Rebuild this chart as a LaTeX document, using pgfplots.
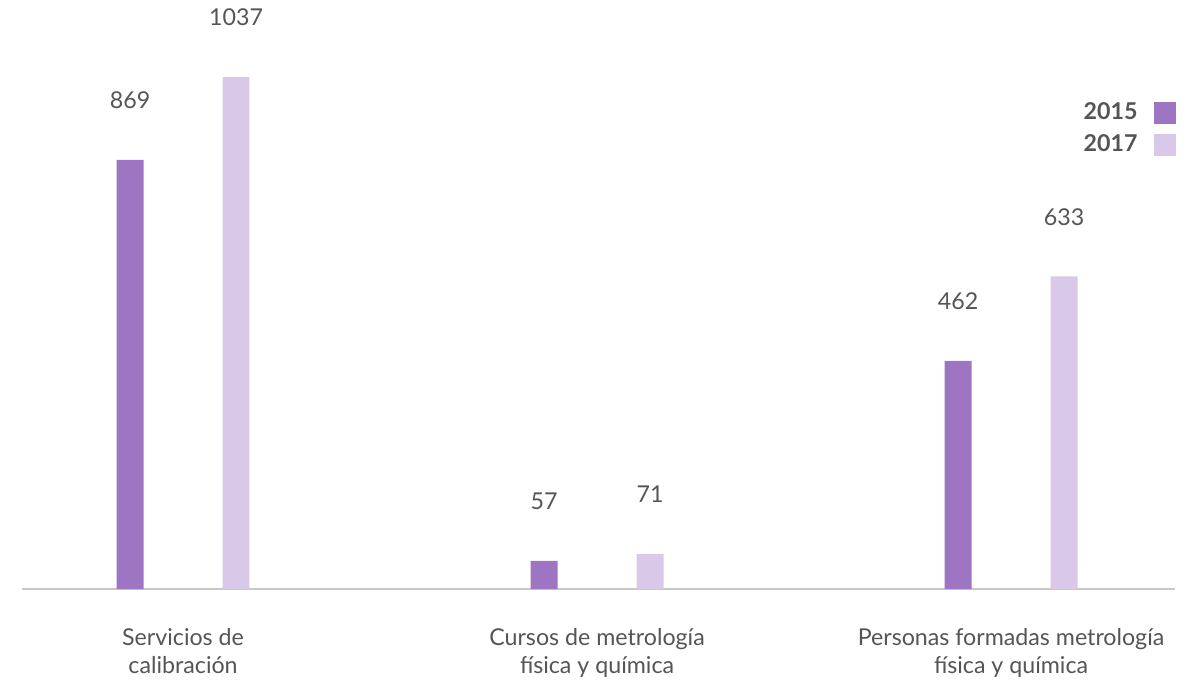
\documentclass[border=0pt]{standalone}
\usepackage{pgfplots}
\pgfplotsset{compat=1.18}
\usepackage{fontspec}
\setmainfont{Lato}
\definecolor{c2015}{HTML}{9E75C2}
\definecolor{c2017}{HTML}{D9C8E7}
\definecolor{txt}{HTML}{555555}
\definecolor{axl}{HTML}{C8C8C8}
\pgfplotstableread{
x v2015 v2017
0 869 1037
1 57 71
2 462 633
}\datatable
\begin{document}
\begin{tikzpicture}
\useasboundingbox (-11pt,-46pt) rectangle (585pt,294.5pt);
\begin{axis}[
  scale only axis,
  width=576.5pt, height=294.5pt,
  anchor=south west, at={(0,0)},
  xmin=-0.389, xmax=2.396,
  ymin=0, ymax=1193,
  axis y line=none,
  axis x line*=bottom,
  x axis line style={draw=axl, line width=1.2pt, -},
  xtick={0,1,2},
  xticklabels={{Servicios de\\calibración},{Cursos de metrología\\física y química},{Personas formadas metrología\\física y química}},
  xticklabel style={align=center, font=\fontsize{11.6}{14}\selectfont, text=txt, yshift=-16pt},
  major tick length=0pt,
  ybar, bar width=0.065,
  nodes near coords,
  /pgf/number format/assume math mode=true,
  /pgf/number format/1000 sep={},
  every node near coord/.append style={font=\fontsize{11.6}{13}\selectfont, text=txt, yshift=22pt},
  legend plot pos=right,
  legend cell align=right,
  legend style={draw=none, fill=none, at={(1.006,0.84)}, anchor=north east, font=\bfseries\fontsize{11.6}{13}\selectfont, text=txt, row sep=2pt},
  legend image code/.code={\path (0pt,0pt); \fill[#1] (6pt,-5.5pt) rectangle (17pt,5.5pt);},
]
\addplot[fill=c2015, draw=none, bar shift=-0.128] table[x=x, y=v2015]{\datatable};
\addplot[fill=c2017, draw=none, bar shift=0.128] table[x=x, y=v2017]{\datatable};
\legend{2015,2017}
\end{axis}
\end{tikzpicture}
\end{document}
